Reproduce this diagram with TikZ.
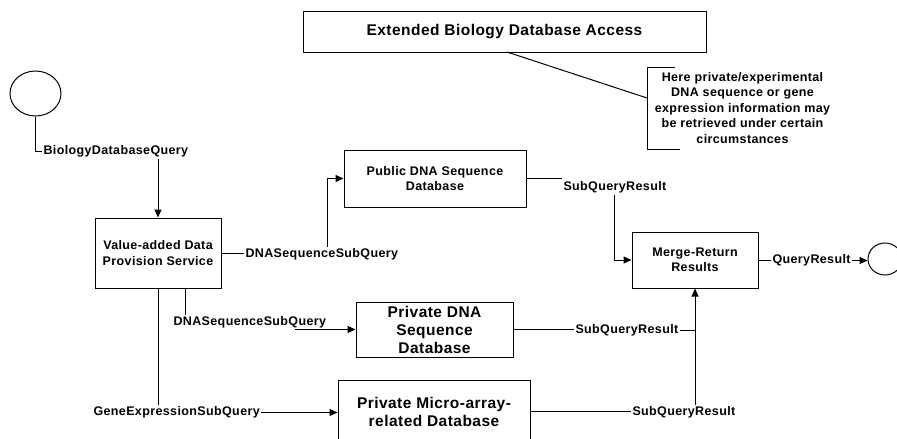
\documentclass[tikz,border=0pt]{standalone}
\usepackage{fontspec}
\setmainfont{Liberation Sans}[LetterSpace=3]
\usetikzlibrary{arrows.meta,shapes.geometric}
\begin{document}
\begin{tikzpicture}[x=1pt,y=-1pt,line width=1pt,
  sm/.style={font=\fontsize{12.5}{15.5}\selectfont\bfseries},
  bg/.style={font=\fontsize{15.5}{18}\selectfont\bfseries},
  box/.style={draw,rectangle,inner sep=0pt,align=center},
  lab/.style={sm,inner sep=1pt,text height=9pt,text depth=3pt},
  term/.style={draw,ellipse,inner sep=0pt},
  arr/.style={-{Triangle[length=8pt,width=7pt]}}]
\clip (0,0) rectangle (897,439);
\fill[white] (0,0) rectangle (897,439);

% boxes
\node[box,bg,minimum width=403pt,minimum height=41pt] (ext) at (504.5,31.5) {Extended Biology Database Access};
\node[box,sm,minimum width=126pt,minimum height=70pt] (val) at (158,253) {Value-added Data\\Provision Service};
\node[box,sm,minimum width=182pt,minimum height=57pt] (pub) at (435,178.5) {Public DNA Sequence\\Database};
\node[box,bg,minimum width=157pt,minimum height=55pt] (pdna) at (434.5,329.5) {Private DNA\\Sequence\\Database};
\node[box,bg,minimum width=192pt,minimum height=63pt] (micro) at (434,411.5) {Private Micro-array-\\related Database};
\node[box,sm,minimum width=126pt,minimum height=56pt] (merge) at (695,260) {Merge-Return\\Results};

% terminals
\node[term,minimum width=51pt,minimum height=45pt] (c1) at (35.5,93.5) {};
\node[term,minimum width=34pt,minimum height=32pt] (c2) at (885,259) {};

% note
\node[sm,align=center,inner sep=0pt] (note) at (742.5,108) {Here private/experimental\\DNA sequence or gene\\expression information may\\be retrieved under certain\\circumstances};
\coordinate (nt) at (675,67);
\coordinate (nb) at (680,149);
\coordinate (nm) at (647,98);
\draw (nt) -- (nt -| nm) -- (nb -| nm) -- (nb);
\coordinate (ea) at (507,52);
\draw (ea) -- (nm);

% labels
\node[lab,anchor=west] (lq) at (42,151.5) {BiologyDatabaseQuery};
\node[lab,anchor=west] (l1) at (244,254.5) {DNASequenceSubQuery};
\node[lab,anchor=west] (r1) at (562,187.5) {SubQueryResult};
\node[lab,anchor=west] (q) at (771,260.5) {QueryResult};
\node[lab,anchor=west] (l2) at (172,322.5) {DNASequenceSubQuery};
\node[lab,anchor=west] (g) at (92,412.5) {GeneExpressionSubQuery};
\node[lab,anchor=west] (r2) at (574,330.5) {SubQueryResult};
\node[lab,anchor=west] (r3) at (631,412.5) {SubQueryResult};

% connectors
\draw (c1.south) |- (lq.west);
\draw[arr] (val.north |- lq.south) -- (val.north);
\draw (val.east) -- (val.east -| l1.west);
\coordinate (l1u) at ([xshift=83pt]l1.north west);
\draw[arr] (l1u) |- (pub.west);
\draw (pub.east) -- (pub.east -| r1.west);
\draw[arr] (r1.south) |- (merge.west);
\draw (merge.east) -- (merge.east -| q.west);
\draw[arr] (q.east) -- (q.east -| c2.west);
\coordinate (l2u) at ([xshift=13pt]l2.north west);
\draw (l2u) -- (l2u |- val.south);
\coordinate (s2) at (295,329.5);
\draw[arr] (s2) -- (pdna.west);
\draw (val.south) -- (val.south |- g.north);
\draw[arr] (g.east) -- (g.east -| micro.west);
\draw (pdna.east) -- (pdna.east -| r2.west);
\draw (r2.east) -- (r2.east -| merge.south);
\draw (micro.east) -- (micro.east -| r3.west);
\draw[arr] (merge.south |- r3.north) -- (merge.south);
\end{tikzpicture}
\end{document}
